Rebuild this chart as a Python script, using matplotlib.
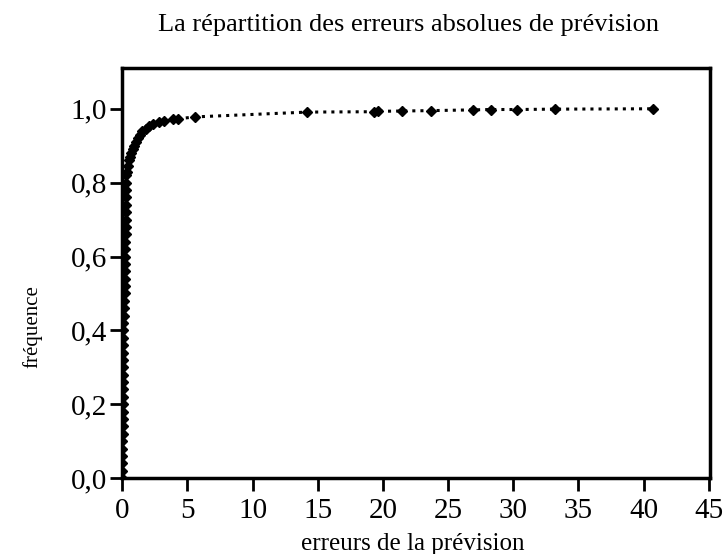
import matplotlib.pyplot as plt
from matplotlib.ticker import FuncFormatter

# sorted absolute forecast errors and their cumulative frequency
erreurs = [0.00, 0.00, 0.01, 0.01, 0.02, 0.02, 0.03, 0.03, 0.04, 0.04,
           0.05, 0.05, 0.06, 0.06, 0.07, 0.07, 0.08, 0.08, 0.09, 0.09,
           0.10, 0.10, 0.11, 0.11, 0.12,
           0.18, 0.19, 0.20, 0.21, 0.22, 0.23, 0.24, 0.25, 0.26, 0.27,
           0.28, 0.29, 0.30, 0.30, 0.31, 0.32, 0.33,
           0.36, 0.42, 0.50, 0.58, 0.68, 0.80, 0.92, 1.05, 1.20, 1.35,
           1.55, 1.80, 2.05, 2.40, 2.80, 3.20, 3.90, 4.30, 5.60,
           14.2, 19.3, 19.6, 21.5, 23.7, 26.9, 28.3, 30.3, 33.2, 40.7]
frequence = [0.00, 0.02, 0.04, 0.06, 0.08, 0.10, 0.12, 0.14, 0.16, 0.18,
             0.20, 0.22, 0.24, 0.26, 0.28, 0.30, 0.32, 0.34, 0.36, 0.38,
             0.40, 0.42, 0.44, 0.46, 0.48,
             0.50, 0.52, 0.54, 0.56, 0.58, 0.60, 0.62, 0.64, 0.66, 0.68,
             0.70, 0.72, 0.74, 0.76, 0.78, 0.80, 0.82,
             0.83, 0.845, 0.86, 0.87, 0.88, 0.89, 0.90, 0.91, 0.92, 0.93,
             0.94, 0.945, 0.952, 0.958, 0.965, 0.968, 0.972, 0.973, 0.978,
             0.991, 0.992, 0.993, 0.994, 0.995, 0.997, 0.998, 0.998, 0.999, 1.0]

xticks = [0, 5, 10, 15, 20, 25, 30, 35, 40, 45]
yticks = [0.0, 0.2, 0.4, 0.6, 0.8, 1.0]

plt.rcParams['font.family'] = ['Liberation Serif', 'DejaVu Serif']

fig = plt.figure(figsize=(7.23, 5.54), dpi=100)
ax = fig.add_axes([0.169, 0.137, 0.813, 0.740])

ax.plot(erreurs, frequence, linestyle=':', linewidth=2.2, color='black',
        marker='D', markersize=5.5, markerfacecolor='black',
        markeredgecolor='black')

ax.set_xlim(0, 45.1)
ax.set_ylim(0, 1.11)
ax.set_xticks(xticks)
ax.set_yticks(yticks)
ax.yaxis.set_major_formatter(FuncFormatter(lambda v, p: f'{v:.1f}'.replace('.', ',')))
ax.tick_params(direction='out', length=9, width=2, labelsize=21, pad=2)
ax.tick_params(axis='x', pad=5)
for s in ax.spines.values():
    s.set_linewidth(2.5)

fig.text(0.565, 0.955, 'La répartition des erreurs absolues de prévision',
         ha='center', va='center', fontsize=19)
fig.text(0.571, 0.018, 'erreurs de la prévision', ha='center', va='center',
         fontsize=18)
fig.text(0.045, 0.41, 'fréquence', ha='center', va='center', rotation=90,
         fontsize=15)

fig.savefig('out.png', dpi=100)
